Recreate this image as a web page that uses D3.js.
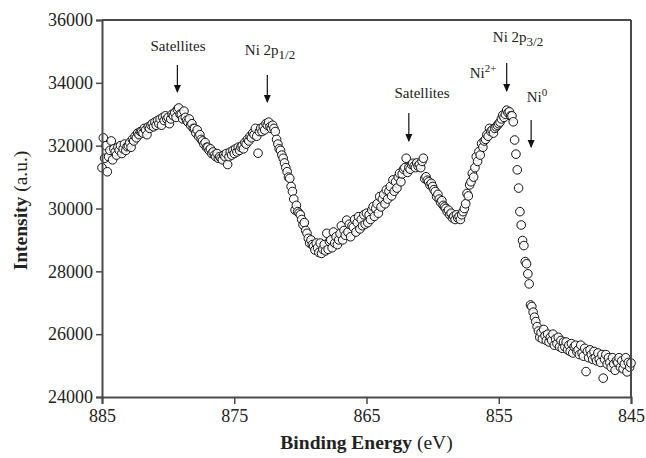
<!DOCTYPE html>
<html><head><meta charset="utf-8">
<script src="https://cdn.jsdelivr.net/npm/d3@7"></script>
<style>
html,body{margin:0;padding:0;background:#fff;}
svg text{font-family:"Liberation Serif","Times New Roman",serif;fill:#222;}
</style></head>
<body><svg id="c" width="646" height="458"></svg>
<script>
// Binding energy grid (eV): 885.0 down to 845.0 in 0.1 eV steps
const energyStart = 885.0, energyStep = 0.1;
// Intensity (a.u.), one row per 1 eV (10 points each)
const intensity = [
  31300,32250,31600,32000,31170,31650,31850,32150,31550,31900, // 885.0-884.1
  31800,31700,31950,31850,32000,31750,31900,32050,31850,31970, // 884.0-883.1
  32000,32100,31950,32200,32150,32300,32250,32400,32350,32450, // 883.0-882.1
  32450,32400,32550,32500,32350,32600,32550,32650,32700,32600, // 882.0-881.1
  32750,32650,32800,32700,32850,32650,32900,32800,32950,32850, // 881.0-880.1
  32900,32700,32850,33000,32950,33050,32900,33150,33200,33000, // 880.0-879.1
  33000,32850,33100,32900,32800,32750,32850,32650,32700,32550, // 879.0-878.1
  32550,32400,32500,32300,32350,32200,32150,32050,32100,31950, // 878.0-877.1
  31950,31850,31900,31750,31800,31700,31650,31750,31600,31650, // 877.0-876.1
  31600,31550,31700,31650,31750,31400,31650,31800,31700,31850, // 876.0-875.1
  31750,31900,31800,31950,31850,31950,32000,31900,32100,32050, // 875.0-874.1
  32200,32150,32300,32250,32400,32350,32550,32300,31760,32450, // 874.0-873.1
  32550,32450,32600,32500,32700,32650,32750,32600,32550,32650, // 873.0-872.1
  32550,32450,32200,32050,31900,31850,31700,31600,31450,31300, // 872.0-871.1
  31170,31000,30960,30700,30540,30300,29950,30100,29900,29850, // 871.0-870.1
  29800,29650,29480,29550,29300,29210,29050,28900,29000,28850, // 870.0-869.1
  28800,28680,28900,28750,28600,28900,28570,28700,28850,28650, // 869.0-868.1
  29210,28700,28950,29000,28750,29250,28900,29100,28850,29000, // 868.0-867.1
  29200,29450,29000,29300,29150,29630,29250,29500,29100,29450, // 867.0-866.1
  29400,29650,29250,29550,29740,29350,29650,29450,29800,29500, // 866.0-865.1
  29850,29550,29800,29650,29950,30060,29750,30000,30150,29850, // 865.0-864.1
  30380,30050,30300,30450,30150,30590,30300,30550,30700,30400, // 864.0-863.1
  30910,30550,30850,30650,31000,31120,30850,31100,31250,31300, // 863.0-862.1
  31600,31150,31300,31250,31400,31440,31350,31300,31450,31350, // 862.0-861.1
  31400,31300,31500,31600,30950,31010,30900,30850,30750,30800, // 861.0-860.1
  30700,30600,30540,30380,30450,30300,30200,30250,30100,30050, // 860.0-859.1
  30000,29900,29950,29800,29850,29700,29750,29650,29800,29700, // 859.0-858.1
  29750,29650,29800,29900,30000,30150,30480,30400,30750,30850, // 858.0-857.1
  31120,31000,31300,31650,31500,31810,31700,32070,31950,32150, // 857.0-856.1
  32200,32350,32300,32550,32450,32500,32400,32550,32600,32650, // 856.0-855.1
  32700,32750,32850,32970,32900,33000,33130,33050,33080,32950, // 855.0-854.1
  32950,32760,32180,31730,31230,30650,29900,29475,28980,28820, // 854.0-853.1
  28310,28240,27920,27600,26930,26880,26700,26540,26400,26240, // 853.0-852.1
  26100,25900,26050,25850,26150,25950,25800,26000,25750,25900, // 852.0-851.1
  25800,26000,25650,25850,25700,25900,25600,25800,25550,25750, // 851.0-850.1
  25600,25750,25500,25650,25450,25700,25400,25600,25650,25450, // 850.0-849.1
  25500,25350,25650,25400,25300,25550,24810,25450,25250,25500, // 849.0-848.1
  25350,25200,25450,25250,25150,25400,25200,25100,25350,24600, // 848.0-847.1
  25200,25350,25050,25250,25100,24950,25250,25050,24850,25150, // 847.0-846.1
  25100,25250,24950,25150,24900,25050,25250,24800,25100,24950, // 846.0-845.1
  25080                                                        // 845.0
];
const xTicks = [885, 875, 865, 855, 845];
const yTicks = [24000, 26000, 28000, 30000, 32000, 34000, 36000];
// Annotations: label text pieces and arrow target energies
const annotations = [
  {parts:[["Satellites",""]], be:879.3},
  {parts:[["Ni 2p",""],["1/2","sub"]], be:872.5},
  {parts:[["Satellites",""]], be:861.8},
  {parts:[["Ni 2p",""],["3/2","sub"]], be:854.4},
  {parts:[["Ni",""],["2+","sup"]], be:854.4},
  {parts:[["Ni",""],["0","sup"]], be:852.55}
];

const data = intensity.map((v,i)=>({be: +(energyStart - i*energyStep).toFixed(1), v}));

const svg = d3.select("#c");
const m = {l:102, r:631, t:20, b:397};
const x = d3.scaleLinear().domain([885, 845]).range([m.l, m.r]);
const y = d3.scaleLinear().domain([24000, 36000]).range([m.b, m.t]);
const axisColor = "#4a4a4a";

// points
svg.append("g").selectAll("circle").data(data).join("circle")
  .attr("cx", d=>x(d.be)).attr("cy", d=>y(d.v)).attr("r", 4.3)
  .attr("fill","#fff").attr("fill-opacity",0.85).attr("stroke","#111").attr("stroke-width",1);

// frame (top & right)
svg.append("line").attr("x1",m.l).attr("x2",m.r).attr("y1",m.t).attr("y2",m.t).attr("stroke",axisColor).attr("stroke-width",2);
svg.append("line").attr("x1",m.r).attr("x2",m.r).attr("y1",m.t).attr("y2",m.b).attr("stroke",axisColor).attr("stroke-width",2);

const gx = svg.append("g").attr("transform",`translate(0,${m.b})`)
  .call(d3.axisBottom(x).tickValues(xTicks).tickFormat(d3.format("d")).tickSizeOuter(0).tickSize(7).tickPadding(5));
const gy = svg.append("g").attr("transform",`translate(${m.l},0)`)
  .call(d3.axisLeft(y).tickValues(yTicks).tickFormat(d3.format("d")).tickSizeOuter(0).tickSize(6).tickPadding(3));
[gx,gy].forEach(g=>{
  g.select(".domain").attr("stroke",axisColor).attr("stroke-width",2);
  g.selectAll(".tick line").attr("stroke",axisColor).attr("stroke-width",1.5);
  g.selectAll(".tick text").attr("font-size",18).attr("fill","#222")
   .attr("font-family","'Liberation Serif','Times New Roman',serif");
});

// axis titles
const xt = svg.append("text").attr("x",(m.l+m.r)/2).attr("y",449).attr("text-anchor","middle").attr("font-size",19.5);
xt.append("tspan").attr("font-weight","bold").text("Binding Energy");
xt.append("tspan").text(" (eV)");
const yt = svg.append("text").attr("transform",`translate(27,${(m.t+m.b)/2+2}) rotate(-90)`).attr("text-anchor","middle").attr("font-size",19.5);
yt.append("tspan").attr("font-weight","bold").text("Intensity");
yt.append("tspan").text(" (a.u.)");

// annotations
const labelPos = [
  {lx:178, ly:51, ay1:65, ay2:93},
  {lx:270, ly:55, ay1:75, ay2:103},
  {lx:422, ly:98, ay1:113, ay2:142},
  {lx:518, ly:42, ay1:63, ay2:92},
  {lx:483, ly:78, ay1:null},
  {lx:537, ly:102, ay1:120, ay2:148}
];
annotations.forEach((a,i)=>{
  const p = labelPos[i];
  const t = svg.append("text").attr("x",p.lx).attr("y",p.ly).attr("text-anchor","middle").attr("font-size",15);
  a.parts.forEach(([s,k])=>{
    const ts = t.append("tspan").text(s);
    if(k==="sub") ts.attr("font-size",13).attr("dy",4);
    if(k==="sup") ts.attr("font-size",11).attr("dy",-6);
  });
  if(p.ay1!=null){
    const ax = x(a.be);
    svg.append("line").attr("x1",ax).attr("x2",ax).attr("y1",p.ay1).attr("y2",p.ay2-1)
      .attr("stroke","#111").attr("stroke-width",1.2);
    svg.append("path").attr("d",`M${ax-3.5},${p.ay2-8} L${ax+3.5},${p.ay2-8} L${ax},${p.ay2} Z`).attr("fill","#111");
  }
});
</script></body></html>
